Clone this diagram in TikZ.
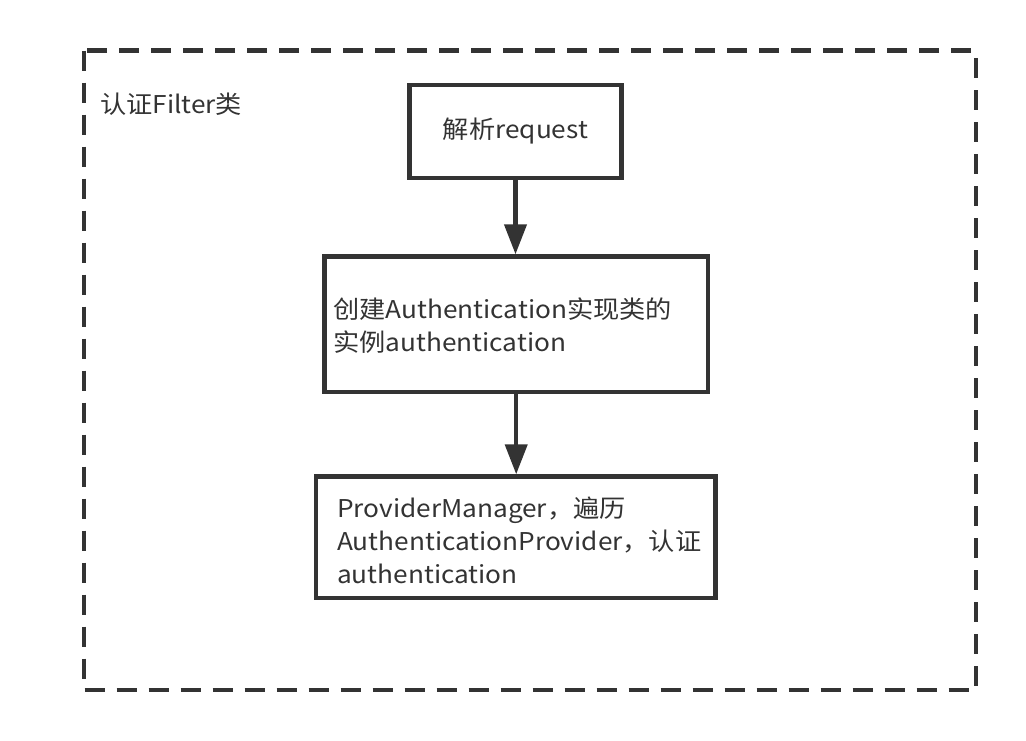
\documentclass[tikz,border=0pt]{standalone}
\usepackage{fontspec}
\setmainfont{Noto Sans CJK SC}[FakeStretch=1.07]
\usetikzlibrary{arrows.meta}
\definecolor{ink}{HTML}{333333}
\begin{document}
\begin{tikzpicture}[x=1pt,y=-1pt,
  stepbox/.style={draw=ink,line width=4.3pt,rectangle,inner sep=0pt,outer sep=2.15pt},
  flow/.style={draw=ink,line width=4.2pt,-{Triangle[length=30pt,width=22pt]}},
  txt/.style={text=ink,font=\fontsize{24.5}{33}\selectfont,inner sep=0pt}]
\useasboundingbox (0,0) rectangle (1026,740);
\draw[ink,line width=4.3pt,dash pattern=on 20pt off 12pt] (84,50.5) rectangle (976,690);
\node[txt,anchor=west] (lbl) at (100,104) {认证Filter类};
\node[stepbox,minimum width=212pt,minimum height=92.7pt] (b1) at (515.5,131.4) {};
\node[txt] (t1) at (b1.center) {解析request};
\node[stepbox,minimum width=383.7pt,minimum height=135.5pt] (b2) at (516.2,324.2) {};
\node[txt,anchor=west,align=left] (t2) at (333,326) {创建Authentication实现类的\\实例authentication};
\node[stepbox,minimum width=399.3pt,minimum height=121.5pt] (b3) at (515.9,537.2) {};
\node[txt,anchor=west,align=left] (t3) at (337,540) {ProviderManager，遍历\\AuthenticationProvider，认证\\authentication};
\draw[flow] (b1.south) -- (b1.south |- b2.north);
\draw[flow] (b2.south) -- (b2.south |- b3.north);
\end{tikzpicture}
\end{document}
